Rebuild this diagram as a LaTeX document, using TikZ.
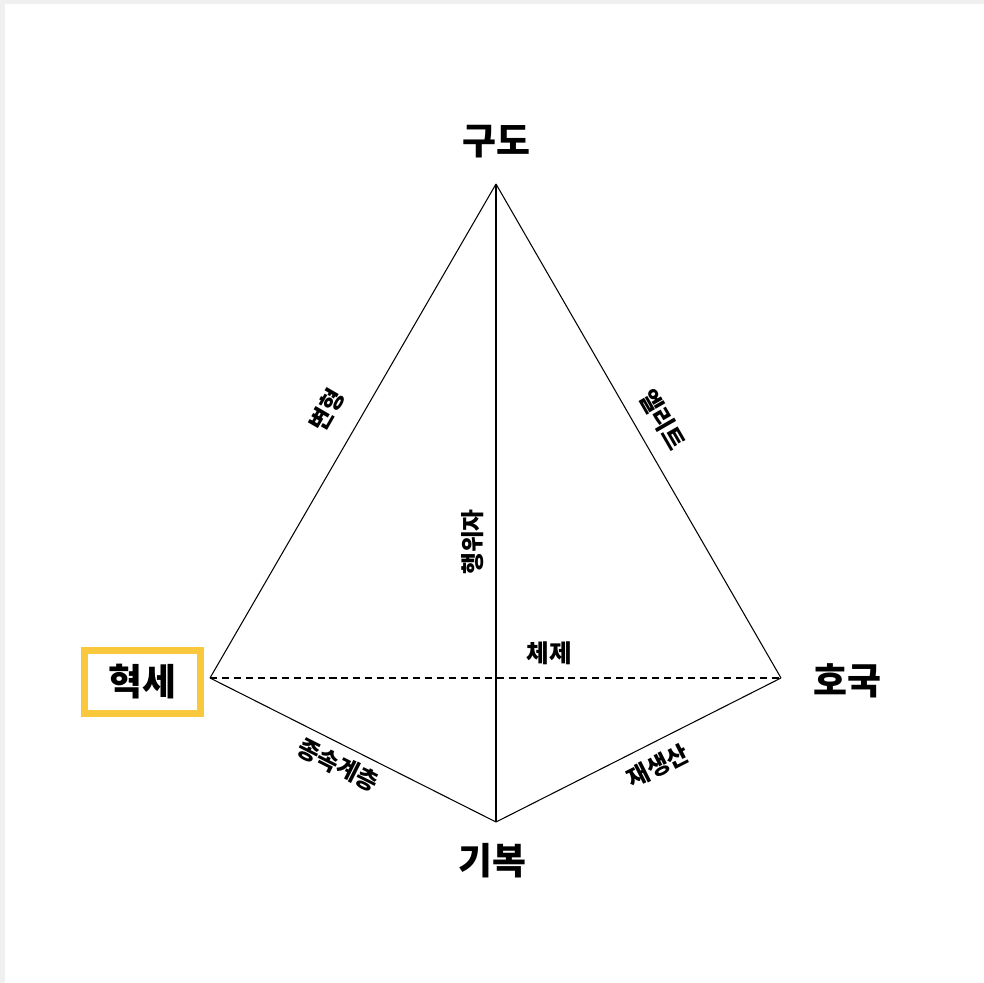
\documentclass[tikz,border=0pt]{standalone}
\usepackage{fontspec}
\setmainfont{Noto Sans CJK KR}
\usepackage{xcolor}
\usetikzlibrary{positioning}
\definecolor{pagegray}{RGB}{240,240,240}
\definecolor{markyellow}{RGB}{250,200,60}
\tikzstyle{pole}    = [font=\fontsize{21}{25}\selectfont\bfseries, inner sep=0pt]
\tikzstyle{side}    = [font=\fontsize{13.5}{16}\selectfont\bfseries, inner sep=0pt]
\tikzstyle{edge}    = [draw=black, line width=0.6pt]
\tikzstyle{markbox} = [draw=markyellow, line width=4pt, minimum width=2.32cm,
                       minimum height=1.26cm]

\begin{document}
\begin{tikzpicture}[x=0.02cm, y=-0.02cm]

  % page
  \fill[pagegray] (0,0) rectangle (984,983);
  \fill[white] (5,4) rectangle (984,983);

  % corners
  \coordinate (gudo)    at (496,184);
  \coordinate (hyeokse) at (210,678);
  \coordinate (hoguk)   at (781,678);
  \coordinate (gibok)   at (496,822);

  \draw[edge] (gudo) -- (hyeokse);
  \draw[edge] (gudo) -- (hoguk);
  \draw[edge] (gudo) -- (gibok);
  \draw[edge] (hyeokse) -- (gibok);
  \draw[edge] (gibok) -- (hoguk);
  \draw[edge, dash pattern=on 4pt off 2.8pt] (hyeokse) -- (hoguk);

  % corner labels
  \node[pole] (gudoL) at (496.5,141.5) {구도};
  \node[pole, markbox] (hyeokseL) at (142.5,682) {혁세};
  \node[pole] (hogukL) at (847.5,681) {호국};
  \node[pole] (gibokL) at (492,861) {기복};

  % edge labels
  \node[side, rotate=60]    (byeonhyeong) at (327,410) {변형};
  \node[side, rotate=-60]   (elite)       at (663,420) {엘리트};
  \node[side, rotate=90]    (haengwija)   at (473,542) {행위자};
  \node[side, font=\fontsize{14}{16}\selectfont\bfseries] (cheje) at (549,653) {체제};
  \node[side, rotate=-26.7] (jongsok)     at (338,765) {종속계층};
  \node[side, rotate=26.8]  (jaesaengsan) at (658,766) {재생산};

\end{tikzpicture}
\end{document}
